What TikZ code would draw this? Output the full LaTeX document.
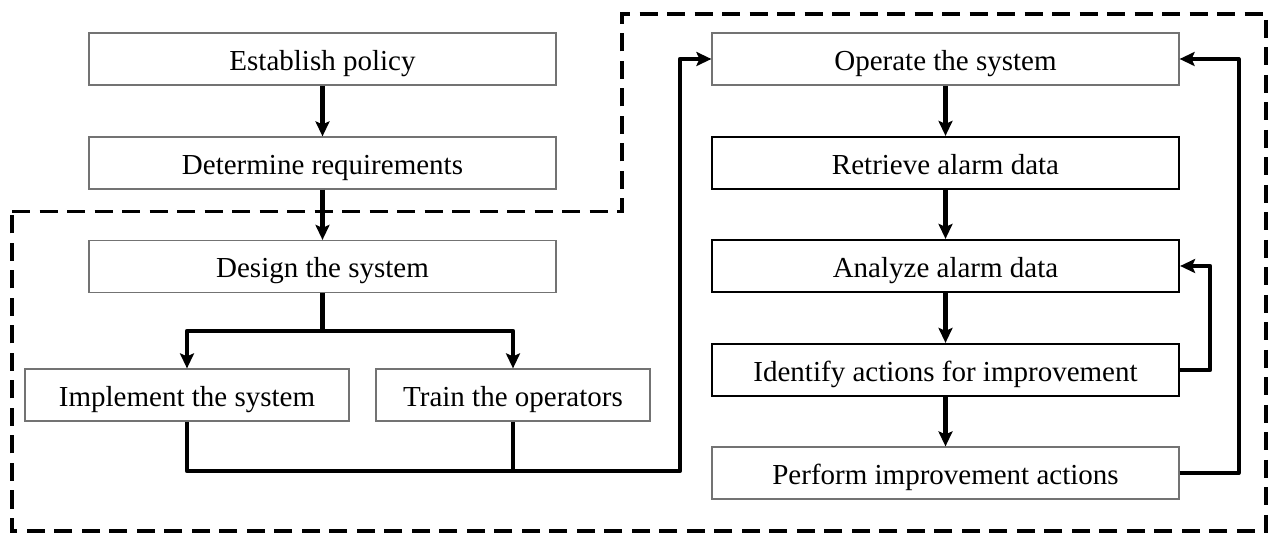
\documentclass[tikz,border=0pt]{standalone}
\usepackage{fontspec}
\setmainfont{Liberation Serif}
\usetikzlibrary{arrows.meta}
\begin{document}
\begin{tikzpicture}[x=1pt,y=-1pt,
  thinbox/.style={draw=black!55,line width=1.2pt,inner sep=0pt,minimum height=52pt,
    font=\fontsize{29}{34}\selectfont,text height=25pt,text depth=2pt},
  thickbox/.style={thinbox,draw=black,line width=2.2pt},
  conn/.style={line width=4.2pt,line join=round},
  arr/.style={conn,-{Stealth[length=15pt,width=14pt,inset=3pt]}},
  region/.style={line width=3.5pt,dash pattern=on 18pt off 9.5pt}]
\useasboundingbox (0,0) rectangle (1270,534);
\draw[region] (12,211.5) -- (622,211.5) -- (622,14) -- (1266,14) -- (1266,531) -- (12,531) -- cycle;

\node[thinbox,minimum width=467pt] (ep) at (322.5,59) {Establish policy};
\node[thinbox,minimum width=467pt] (dr) at (322.5,163) {Determine requirements};
\node[thinbox,minimum width=467pt] (ds) at (322.5,266.5) {Design the system};
\node[thinbox,minimum width=324pt] (impl) at (187,395) {Implement the system};
\node[thinbox,minimum width=274pt] (train) at (513,395) {Train the operators};

\node[thinbox,minimum width=467pt] (op) at (945.5,59) {Operate the system};
\node[thickbox,minimum width=467pt] (ret) at (945.5,163) {Retrieve alarm data};
\node[thickbox,minimum width=467pt] (ana) at (945.5,266) {Analyze alarm data};
\node[thickbox,minimum width=467pt] (idf) at (945.5,370) {Identify actions for improvement};
\node[thinbox,minimum width=467pt] (perf) at (945.5,473) {Perform improvement actions};

\coordinate (b1) at (322.5,331);
\coordinate (m) at (680,471);

\draw[arr] (ep) -- (dr);
\draw[arr] (dr) -- (ds);
\draw[arr] (ds.south) -- (b1) -| (impl.north);
\draw[arr] (b1) -| (train.north);
\draw[conn] (impl.south) |- (m);
\draw[arr] (train.south) |- (m) |- (op.west);

\draw[arr] (op) -- (ret);
\draw[arr] (ret) -- (ana);
\draw[arr] (ana) -- (idf);
\draw[arr] (idf) -- (perf);
\draw[arr] (idf.east) -- ++(30,0) |- (ana.east);
\draw[arr] (perf.east) -- ++(59,0) |- (op.east);
\end{tikzpicture}
\end{document}
